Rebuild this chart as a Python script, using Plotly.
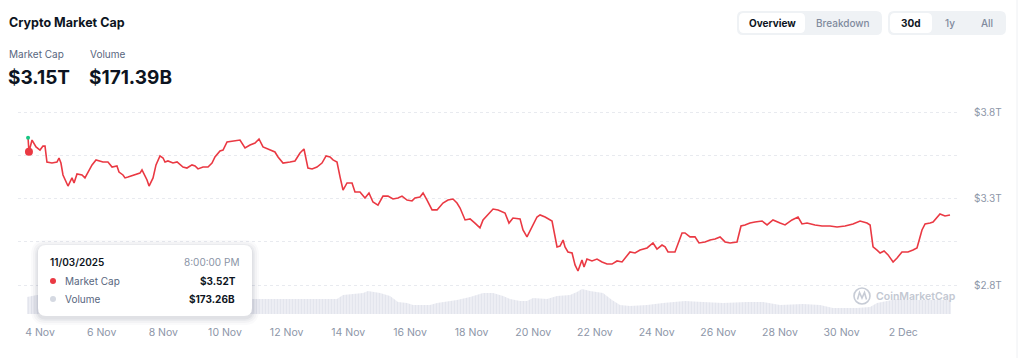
import plotly.graph_objects as go
from datetime import datetime, timedelta

# ---------------- data ----------------
BASE = datetime(2025, 11, 4)  # hour offsets below are relative to 4 Nov 00:00

price_hours = [
    -9.3, -8.6, -6.2, -3.1, 0.0, 2.3, 3.9, 5.4, 9.3, 13.2, 14.8, 16.3, 17.9, 21.8, 24.9, 26.5,
    28.8, 32.7, 35.0, 37.4, 40.5, 43.6, 49.0, 52.9, 56.1, 59.9, 61.5, 64.6, 66.2, 68.5, 74.0, 77.8,
    79.4, 83.3, 84.9, 88.0, 90.3, 93.4, 95.8, 97.3, 99.6, 103.5, 106.7, 111.3, 114.4, 118.3, 120.7, 123.0,
    126.9, 130.8, 133.9, 136.2, 140.1, 142.5, 145.6, 150.3, 155.7, 159.6, 163.5, 167.4, 170.5, 173.6, 177.5, 179.1,
    182.9, 185.3, 189.2, 194.6, 198.5, 202.4, 205.5, 208.6, 211.8, 215.6, 219.5, 222.7, 225.8, 228.1, 231.2, 233.6,
    235.9, 239.0, 242.9, 245.2, 249.1, 253.0, 256.1, 259.2, 263.1, 267.0, 270.9, 274.8, 278.7, 281.8, 285.7, 289.6,
    291.9, 295.8, 298.2, 301.3, 305.2, 309.1, 313.7, 317.6, 321.5, 324.6, 327.0, 330.9, 334.8, 338.6, 342.5, 344.9,
    350.3, 352.7, 356.6, 360.5, 362.0, 365.1, 368.2, 373.7, 376.0, 379.1, 383.0, 386.9, 389.3, 393.2, 398.6, 402.5,
    404.8, 407.2, 408.7, 411.0, 414.2, 416.5, 418.8, 421.9, 423.5, 425.8, 429.7, 433.6, 437.5, 441.4, 445.3, 449.2,
    453.1, 455.4, 459.3, 463.2, 467.1, 472.6, 477.2, 480.3, 484.2, 486.6, 488.9, 494.3, 496.7, 499.8, 502.1, 506.0,
    509.9, 513.0, 517.7, 521.6, 525.5, 529.4, 533.3, 537.2, 542.6, 545.7, 548.8, 552.7, 556.6, 562.1, 566.0, 570.6,
    576.1, 580.0, 585.4, 590.1, 593.2, 597.1, 603.3, 608.8, 615.0, 620.5, 626.7, 632.9, 638.4, 643.8, 646.2, 648.5,
    651.6, 654.0, 657.1, 660.2, 664.1, 667.2, 671.0, 675.7, 679.6, 682.7, 686.6, 689.0, 692.9, 695.2, 700.6, 704.5,
    708.4,
]

market_cap_t = [
    3.601, 3.520, 3.588, 3.548, 3.530, 3.553, 3.553, 3.461, 3.455, 3.461, 3.484, 3.455, 3.386, 3.322, 3.369, 3.340,
    3.392, 3.386, 3.369, 3.403, 3.444, 3.473, 3.461, 3.461, 3.432, 3.438, 3.403, 3.386, 3.369, 3.374, 3.386, 3.397,
    3.415, 3.357, 3.322, 3.369, 3.444, 3.496, 3.484, 3.461, 3.467, 3.455, 3.461, 3.432, 3.426, 3.444, 3.438, 3.421,
    3.432, 3.432, 3.455, 3.490, 3.525, 3.530, 3.577, 3.582, 3.588, 3.542, 3.559, 3.571, 3.594, 3.548, 3.536, 3.530,
    3.519, 3.490, 3.455, 3.461, 3.467, 3.513, 3.536, 3.426, 3.421, 3.432, 3.455, 3.496, 3.490, 3.473, 3.461, 3.374,
    3.299, 3.340, 3.340, 3.288, 3.288, 3.253, 3.282, 3.230, 3.212, 3.264, 3.264, 3.247, 3.253, 3.264, 3.241, 3.236,
    3.253, 3.259, 3.282, 3.241, 3.184, 3.184, 3.224, 3.241, 3.247, 3.224, 3.195, 3.126, 3.132, 3.108, 3.080, 3.126,
    3.172, 3.189, 3.184, 3.172, 3.166, 3.108, 3.137, 3.132, 3.068, 3.028, 3.085, 3.143, 3.155, 3.143, 3.120, 2.970,
    2.975, 3.010, 2.970, 2.941, 2.935, 2.866, 2.831, 2.895, 2.854, 2.900, 2.889, 2.900, 2.883, 2.871, 2.871, 2.889,
    2.883, 2.906, 2.941, 2.935, 2.952, 2.964, 2.993, 2.958, 2.981, 2.970, 2.941, 2.941, 2.993, 3.051, 3.051, 3.028,
    3.028, 2.993, 2.999, 3.010, 3.016, 3.028, 2.999, 2.993, 2.999, 3.091, 3.097, 3.108, 3.114, 3.120, 3.097, 3.126,
    3.108, 3.097, 3.126, 3.143, 3.103, 3.108, 3.097, 3.091, 3.091, 3.085, 3.091, 3.103, 3.120, 3.108, 3.097, 2.970,
    2.952, 2.935, 2.947, 2.924, 2.883, 2.906, 2.941, 2.941, 2.952, 2.964, 3.068, 3.103, 3.108, 3.114, 3.160, 3.149,
    3.155,
]

volume_hours = [
    -10.1, -6.2, -2.3, 15.6, 46.7, 85.6, 124.6, 163.5, 194.6, 225.8, 231.2, 235.9, 251.5, 255.3, 264.7, 272.5,
    278.7, 285.7, 290.4, 303.6, 309.1, 324.6, 334.8, 344.9, 352.7, 360.5, 365.9, 373.7, 379.1, 383.8, 394.7, 402.5,
    412.6, 418.0, 421.9, 428.2, 438.3, 445.3, 451.5, 459.3, 472.6, 485.0, 496.7, 502.1, 516.1, 531.7, 550.4, 562.9,
    576.1, 594.0, 607.2, 617.3, 636.0, 646.2, 651.6, 667.2, 677.3, 692.9, 709.2,
]
volume_b = [
    170, 180, 190, 180, 160, 150, 160, 150, 150, 150, 150, 190, 210, 230, 210, 180,
    120, 110, 90, 90, 110, 140, 170, 210, 210, 180, 150, 130, 130, 160, 150, 180,
    190, 220, 250, 230, 210, 140, 90, 80, 90, 110, 120, 130, 120, 110, 120, 120,
    90, 100, 90, 60, 60, 70, 110, 150, 140, 140, 140,
]

y_tick_values = [2.75, 3.0, 3.25, 3.5, 3.75]
y_tick_labels = ["$2.8T", "", "$3.3T", "", "$3.8T"]

HEADER_MCAP = "$3.15T"
HEADER_VOL = "$171.39B"
TIP_DATE = "11/03/2025"
TIP_TIME = "8:00:00 PM"
TIP_VOL = "$173.26B"
HOVER_INDEX = 1

# ---------------- layout geometry ----------------
W, H = 1024, 358
ML, MR, MT, MB = 18, 65, 100, 44
PW, PH = W - ML - MR, H - MT - MB
PX_PER_DAY = 30.83
X_ZERO_PX = 40           # pixel of 4 Nov 00:00
PX_PER_T = 173.0
Y_275_PX = 285           # pixel of 2.75T
PX_PER_B = 0.1           # volume pixels per billion

FONT = "Inter, Roboto, 'Noto Sans', sans-serif"
RED = "#ea3943"
DARK = "#0d1421"
GRAY = "#58667e"
LIGHT = "#8a94a6"

price_x = [BASE + timedelta(hours=h) for h in price_hours]
vol_x = [BASE + timedelta(hours=h) for h in volume_hours]

x_start = BASE - timedelta(days=(X_ZERO_PX - ML) / PX_PER_DAY)
x_end = BASE + timedelta(days=(W - MR - X_ZERO_PX) / PX_PER_DAY)
y_lo = 2.75 - (H - MB - Y_275_PX) / PX_PER_T
y_hi = 2.75 + (Y_275_PX - MT) / PX_PER_T


def px(x):
    return (x - ML) / PW


def py(y):
    return (H - MB - y) / PH


def rrect(x0, y0, x1, y1, r):
    def P(x, y):
        return f"{px(x):.5f},{py(y):.5f}"
    return (f"M {P(x0 + r, y0)} L {P(x1 - r, y0)} Q {P(x1, y0)} {P(x1, y0 + r)} "
            f"L {P(x1, y1 - r)} Q {P(x1, y1)} {P(x1 - r, y1)} L {P(x0 + r, y1)} "
            f"Q {P(x0, y1)} {P(x0, y1 - r)} L {P(x0, y0 + r)} Q {P(x0, y0)} {P(x0 + r, y0)} Z")


fig = go.Figure()

# volume (base axis)
fig.add_trace(go.Scatter(
    x=vol_x, y=volume_b, mode="lines", line=dict(width=0, color="#dfe3eb"),
    fill="tozeroy", fillcolor="rgba(0,0,0,0)",
    fillpattern=dict(shape="|", fgcolor="#d3d8e3", bgcolor="#f2f3f7", size=3, solidity=0.6),
    yaxis="y", hoverinfo="skip",
))

# market cap line (overlay axis)
fig.add_trace(go.Scatter(
    x=price_x, y=market_cap_t, mode="lines", line=dict(color=RED, width=1.6),
    yaxis="y2", hoverinfo="skip",
))
fig.add_trace(go.Scatter(
    x=[price_x[0]], y=[market_cap_t[0]], mode="markers",
    marker=dict(color="#16c784", size=4), yaxis="y2", hoverinfo="skip",
))
fig.add_trace(go.Scatter(
    x=[price_x[HOVER_INDEX]], y=[market_cap_t[HOVER_INDEX]], mode="markers",
    marker=dict(color=RED, size=8), yaxis="y2", hoverinfo="skip",
))

shapes = []
annotations = []

def text(x, y, s, size=10, color=DARK, anchor="left", weight=400):
    annotations.append(dict(
        xref="paper", yref="paper", x=px(x), y=py(y), text=s, showarrow=False,
        xanchor=anchor, yanchor="middle", borderpad=0,
        font=dict(family=FONT, size=size, color=color, weight=weight),
    ))

# header
text(8, 23, "Crypto Market Cap", size=12.5, weight=700)
text(8, 54, "Market Cap", size=10, color=GRAY)
text(89, 54, "Volume", size=10, color=GRAY)
text(7, 77, HEADER_MCAP, size=19, weight=700)
text(88, 77, HEADER_VOL, size=19, weight=700)

# buttons
shapes.append(dict(type="path", xref="paper", yref="paper", path=rrect(737, 11, 882, 35, 6),
                   fillcolor="#eff2f5", line=dict(width=0), layer="above"))
shapes.append(dict(type="path", xref="paper", yref="paper", path=rrect(739, 13, 805, 33, 5),
                   fillcolor="white", line=dict(width=0), layer="above"))
shapes.append(dict(type="path", xref="paper", yref="paper", path=rrect(888, 11, 1006, 35, 6),
                   fillcolor="#eff2f5", line=dict(width=0), layer="above"))
shapes.append(dict(type="path", xref="paper", yref="paper", path=rrect(890, 13, 932, 33, 5),
                   fillcolor="white", line=dict(width=0), layer="above"))
text(772, 23, "Overview", size=10, weight=700, anchor="center")
text(843, 23, "Breakdown", size=10, color="#808a9d", weight=500, anchor="center")
text(911, 23, "30d", size=10, weight=700, anchor="center")
text(950, 23, "1y", size=10, color="#808a9d", weight=500, anchor="center")
text(987, 23, "All", size=10, color="#808a9d", weight=500, anchor="center")

# right page border
shapes.append(dict(type="line", xref="paper", yref="paper", x0=px(1017), x1=px(1017), y0=py(0), y1=py(H),
                   line=dict(color="#eef0f3", width=1), layer="above"))

# watermark
shapes.append(dict(type="circle", xref="paper", yref="paper", x0=px(854), x1=px(870), y0=py(288), y1=py(304),
                   line=dict(color="#c7ccd6", width=1.6), fillcolor="rgba(255,255,255,0.6)", layer="above"))
shapes.append(dict(type="path", xref="paper", yref="paper",
                   path=f"M {px(857.5)},{py(299.5)} L {px(859.5)},{py(292.5)} L {px(862)},{py(298)} "
                        f"L {px(864.5)},{py(292.5)} L {px(866.5)},{py(299.5)}",
                   line=dict(color="#c7ccd6", width=1.6), layer="above"))
text(875, 296, "CoinMarketCap", size=10.5, color="#c3c8d2", weight=600)

# tooltip with soft shadow
for grow, alpha in [(7, 0.025), (5, 0.03), (3, 0.04), (1.5, 0.05)]:
    shapes.append(dict(type="path", xref="paper", yref="paper",
                       path=rrect(38 - grow, 245 - grow + 2, 252 + grow, 316 + grow + 2, 8 + grow),
                       fillcolor=f"rgba(30,40,70,{alpha})", line=dict(width=0), layer="above"))
shapes.append(dict(type="path", xref="paper", yref="paper", path=rrect(38, 245, 252, 316, 8),
                   fillcolor="white", line=dict(width=0), layer="above"))
text(49, 262, TIP_DATE, size=10, weight=600)
text(240, 262, TIP_TIME, size=10, color=LIGHT, anchor="right")
shapes.append(dict(type="circle", xref="paper", yref="paper", x0=px(50), x1=px(56), y0=py(278), y1=py(284),
                   fillcolor=RED, line=dict(width=0), layer="above"))
text(64, 281, "Market Cap", size=10, color=GRAY)
text(237, 281, f"${market_cap_t[HOVER_INDEX]:.2f}T", size=10, weight=700, anchor="right")
shapes.append(dict(type="circle", xref="paper", yref="paper", x0=px(50), x1=px(56), y0=py(296), y1=py(302),
                   fillcolor="#d5d9e2", line=dict(width=0), layer="above"))
text(64, 299, "Volume", size=10, color=GRAY)
text(236, 299, TIP_VOL, size=10, weight=700, anchor="right")

fig.update_layout(
    width=W, height=H,
    margin=dict(l=ML, r=MR, t=MT, b=MB, pad=0),
    paper_bgcolor="white", plot_bgcolor="white",
    showlegend=False, hovermode=False,
    font=dict(family=FONT),
    xaxis=dict(
        type="date", range=[x_start, x_end], tick0=BASE, dtick=2 * 86400000,
        tickformat="%-d %b", showgrid=False, zeroline=False, showline=False,
        ticks="outside", ticklen=8, tickcolor="rgba(0,0,0,0)",
        tickfont=dict(family=FONT, size=10.5, color="#8d96a8"),
    ),
    yaxis=dict(range=[0, PH / PX_PER_B], visible=False, fixedrange=True),
    yaxis2=dict(
        overlaying="y", side="right", range=[y_lo, y_hi],
        tickvals=y_tick_values, ticktext=y_tick_labels,
        showgrid=True, gridcolor="#e8eaef", griddash="dot", gridwidth=1,
        zeroline=False, showline=False,
        ticks="outside", ticklen=12, tickcolor="rgba(0,0,0,0)",
        tickfont=dict(family=FONT, size=10, color="#8d96a8"),
    ),
    shapes=shapes, annotations=annotations,
)

fig.write_html("out.html", config={"displayModeBar": False},
               post_script="document.body.style.margin='0';")
